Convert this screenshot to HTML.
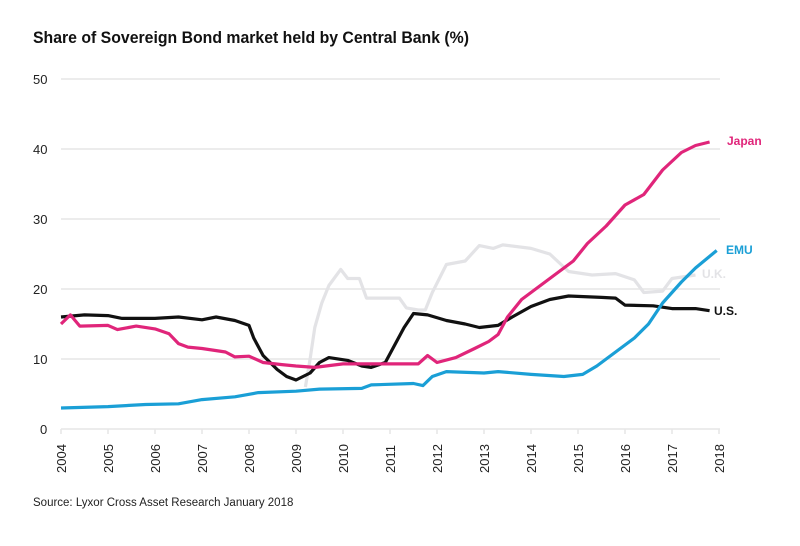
<!DOCTYPE html>
<html><head><meta charset="utf-8"><style>
body{margin:0;background:#fff;width:800px;height:541px;overflow:hidden;font-family:"Liberation Sans",sans-serif}
</style></head><body>
<svg id="s" width="800" height="541" xmlns="http://www.w3.org/2000/svg" font-family="Liberation Sans, sans-serif">
<text x="33" y="43" font-size="16.5" font-weight="bold" fill="#111" textLength="436" lengthAdjust="spacingAndGlyphs">Share of Sovereign Bond market held by Central Bank (%)</text>
<g id="grid" stroke="#e6e6e6" stroke-width="1.5"></g>
<g id="yl" font-size="13" fill="#222"></g>
<g id="xl" font-size="13" fill="#222"></g>
<g id="lines" fill="none" stroke-width="3.2" stroke-linejoin="round"></g>
<text x="727" y="145" font-size="12" font-weight="bold" fill="#e0257a">Japan</text>
<text x="726" y="254" font-size="12" font-weight="bold" fill="#1a9fd6">EMU</text>
<text x="702" y="278" font-size="12" font-weight="bold" fill="#e3e3e6">U.K.</text>
<text x="714" y="315" font-size="12" font-weight="bold" fill="#111">U.S.</text>
<text x="33" y="506" font-size="11.5" fill="#222">Source: Lyxor Cross Asset Research January 2018</text>
</svg>
<script>
const X=t=>61+47*(t-2004), Y=v=>429-7*v, NS="http://www.w3.org/2000/svg";
function el(p,n,a,txt){const e=document.createElementNS(NS,n);for(const k in a)e.setAttribute(k,a[k]);if(txt)e.textContent=txt;document.getElementById(p).appendChild(e);}
for(let v=0;v<=50;v+=10){el('grid','line',{x1:61,x2:720,y1:Y(v),y2:Y(v)});el('yl','text',{x:v?33:40,y:Y(v)+5},String(v));}
for(let y=2004;y<=2018;y++){el('grid','line',{x1:X(y),x2:X(y),y1:429,y2:434});el('xl','text',{transform:`translate(${X(y)+5},473) rotate(-90)`},String(y));}
const S={
"#e3e3e6":[[2009.2,6],[2009.3,10],[2009.4,14.5],[2009.55,18],[2009.7,20.5],[2009.95,22.8],[2010.1,21.5],[2010.35,21.5],[2010.5,18.7],[2011.2,18.7],[2011.35,17.3],[2011.6,17],[2011.75,17],[2011.9,19.5],[2012.2,23.5],[2012.6,24],[2012.9,26.2],[2013.2,25.8],[2013.4,26.3],[2014,25.8],[2014.4,25],[2014.8,22.5],[2015.3,22],[2015.8,22.2],[2016.2,21.3],[2016.4,19.5],[2016.8,19.7],[2017,21.5],[2017.5,22]],
"#111":[[2004,16],[2004.5,16.3],[2005,16.2],[2005.3,15.8],[2006,15.8],[2006.5,16],[2007,15.6],[2007.3,16],[2007.7,15.5],[2008,14.8],[2008.1,13],[2008.3,10.5],[2008.6,8.5],[2008.8,7.5],[2009,7],[2009.3,8],[2009.5,9.5],[2009.7,10.2],[2010.1,9.8],[2010.4,9],[2010.6,8.8],[2010.9,9.5],[2011.1,12],[2011.3,14.5],[2011.5,16.5],[2011.8,16.3],[2012.2,15.5],[2012.6,15],[2012.9,14.5],[2013.3,14.8],[2013.6,16],[2014,17.5],[2014.4,18.5],[2014.8,19],[2015.5,18.8],[2015.8,18.7],[2016,17.7],[2016.6,17.6],[2017,17.2],[2017.5,17.2],[2017.8,16.9]],
"#e0257a":[[2004,15],[2004.2,16.3],[2004.4,14.7],[2005,14.8],[2005.2,14.2],[2005.6,14.7],[2006,14.3],[2006.3,13.6],[2006.5,12.2],[2006.7,11.7],[2007,11.5],[2007.5,11],[2007.7,10.3],[2008,10.4],[2008.3,9.5],[2008.7,9.2],[2009,9],[2009.4,8.8],[2010,9.3],[2011.6,9.3],[2011.8,10.5],[2012,9.5],[2012.4,10.2],[2012.8,11.5],[2013.1,12.5],[2013.3,13.5],[2013.5,16],[2013.8,18.5],[2014.3,21],[2014.9,24],[2015.2,26.5],[2015.6,29],[2016,32],[2016.4,33.5],[2016.8,37],[2017.2,39.5],[2017.5,40.5],[2017.8,41]],
"#1a9fd6":[[2004,3],[2005,3.2],[2005.8,3.5],[2006.5,3.6],[2007,4.2],[2007.7,4.6],[2008.2,5.2],[2009,5.4],[2009.5,5.7],[2010.4,5.8],[2010.6,6.3],[2011.5,6.5],[2011.7,6.2],[2011.9,7.5],[2012.2,8.2],[2013,8],[2013.3,8.2],[2014,7.8],[2014.7,7.5],[2015.1,7.8],[2015.4,9],[2015.8,11],[2016.2,13],[2016.5,15],[2016.8,18],[2017.2,21],[2017.5,23],[2017.95,25.5]]};
for(const c in S)el('lines','polyline',{stroke:c,points:S[c].map(p=>X(p[0]).toFixed(1)+','+Y(p[1]).toFixed(1)).join(' ')});
</script>
</body></html>
